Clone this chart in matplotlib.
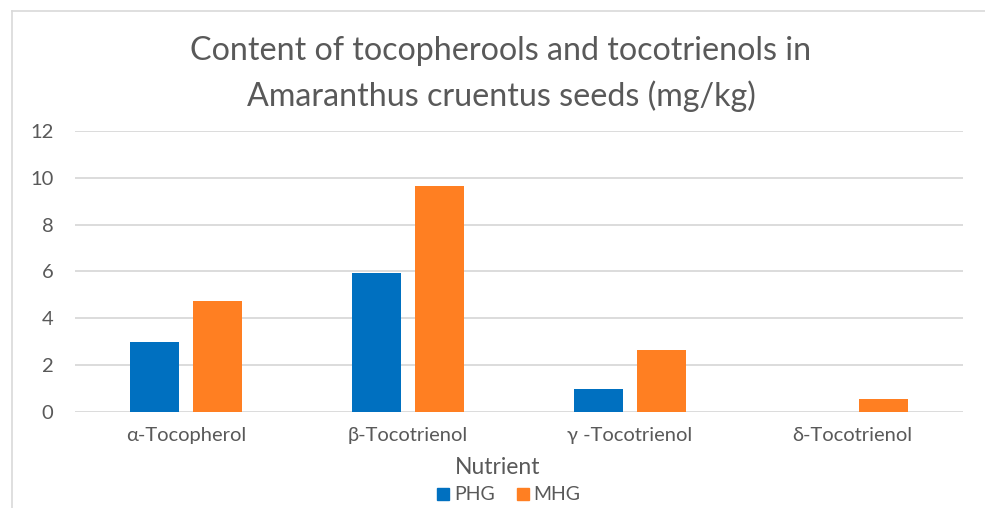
import numpy as np
import matplotlib.pyplot as plt
from matplotlib.lines import Line2D

categories = ["α-Tocopherol", "β-Tocotrienol", "γ -Tocotrienol", "δ-Tocotrienol"]
phg = [2.97, 5.92, 0.96, 0.0]
mhg = [4.73, 9.64, 2.65, 0.53]
yticks = [0, 2, 4, 6, 8, 10, 12]

BLUE = "#0070C0"
ORANGE = "#FF7F22"
TEXT = "#595959"
GRID = "#D9D9D9"

plt.rcParams['font.family'] = ['Lato', 'DejaVu Sans']

fig = plt.figure(figsize=(9.85, 5.08), dpi=100)
W, H = 985.0, 508.0
ax = fig.add_axes([75 / W, (H - 411.7) / H, 888 / W, 280.7 / H])

x = np.arange(len(categories))
bw = 0.225
off = 0.142
ax.bar(x - off, phg, bw, color=BLUE, label="PHG", zorder=3)
ax.bar(x + off, mhg, bw, color=ORANGE, label="MHG", zorder=3)

ax.set_xlim(-0.5, len(categories) - 0.5)
ax.set_ylim(0, 12)
ax.set_yticks(yticks)
ax.yaxis.grid(True, color=GRID, linewidth=1.3, zorder=0)
for s in ax.spines.values():
    s.set_visible(False)
ax.tick_params(axis='both', length=0, colors=TEXT, labelsize=14.5)
ax.tick_params(axis='y', pad=15.5)
ax.tick_params(axis='x', pad=11)
ax.set_xticks(x)
ax.set_xticklabels(categories)

fig.text(501 / W, 1 - 51 / H, "Content of tocopherools and tocotrienols in",
         ha='center', va='center', fontsize=23.2, color=TEXT)
fig.text(501 / W, 1 - 96 / H, "Amaranthus cruentus seeds (mg/kg)",
         ha='center', va='center', fontsize=23.2, color=TEXT)
fig.text(498 / W, 1 - 467 / H, "Nutrient", ha='center', va='center',
         fontsize=16.5, color=TEXT)

leg = fig.legend(handles=[Line2D([], [], marker='s', ls='', color=BLUE, markersize=9),
                          Line2D([], [], marker='s', ls='', color=ORANGE, markersize=9)],
                 labels=["PHG", "MHG"], loc='center', bbox_to_anchor=(507 / W, 1 - 495 / H),
                 ncol=2, frameon=False, fontsize=14, handletextpad=0.05,
                 columnspacing=0.95, handlelength=1.0)
for t in leg.get_texts():
    t.set_color(TEXT)

# chart frame (cropped on right and bottom)
fig.add_artist(Line2D([11.5 / W, 1], [1 - 11 / H, 1 - 11 / H], color=GRID, lw=1.2))
fig.add_artist(Line2D([11.5 / W, 11.5 / W], [0, 1 - 11 / H], color=GRID, lw=1.2))

fig.savefig("out.png", dpi=100, facecolor='white')
